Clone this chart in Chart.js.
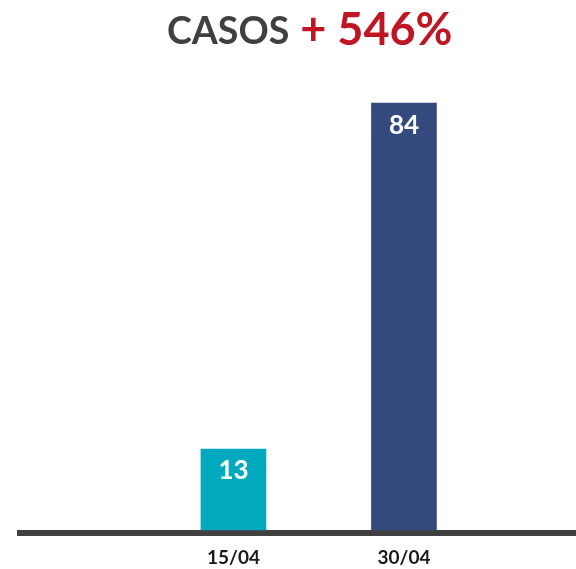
<!DOCTYPE html>
<html>
<head>
<meta charset="utf-8">
<script src="https://cdn.jsdelivr.net/npm/chart.js@4/dist/chart.umd.min.js"></script>
<style>
html,body{margin:0;padding:0;background:#fff;}
#wrap{position:relative;width:576px;height:569px;}
</style>
</head>
<body>
<div id="wrap"><canvas id="c" width="576" height="569"></canvas></div>
<script>
const categories = ['15/04', '30/04'];
const casos = [13, 84];
const barColors = ['#00A9BD', '#344A7E'];
const titleMain = 'CASOS';
const titleChange = '+ 546%';

const titlePlugin = {
  id: 'twoColorTitle',
  afterDraw(chart) {
    const ctx = chart.ctx;
    ctx.save();
    ctx.textBaseline = 'alphabetic';
    ctx.textAlign = 'left';
    let x = 167;
    ctx.font = 'bold 37.5px Lato';
    ctx.fillStyle = '#404040';
    ctx.fillText(titleMain, x, 44);
    x += ctx.measureText(titleMain).width + 11;
    ctx.font = 'bold 45px Lato';
    ctx.fillStyle = '#BE1622';
    ctx.fillText(titleChange, x, 45);
    ctx.restore();
  }
};

const valueLabels = {
  id: 'valueLabels',
  afterDatasetsDraw(chart) {
    const ctx = chart.ctx;
    const meta = chart.getDatasetMeta(0);
    ctx.save();
    ctx.font = 'bold 26px Lato';
    ctx.fillStyle = '#ffffff';
    ctx.textAlign = 'center';
    ctx.textBaseline = 'middle';
    meta.data.forEach((bar, i) => {
      ctx.fillText(String(casos[i]), bar.x, bar.y + 22);
    });
    ctx.restore();
  }
};

new Chart(document.getElementById('c'), {
  type: 'bar',
  data: {
    datasets: [{
      data: casos.map((v, i) => ({x: i + 1, y: v})),
      backgroundColor: barColors,
      barThickness: 65,
      base: -3.62
    }]
  },
  options: {
    responsive: false,
    animation: false,
    layout: {padding: {top: 90, left: 20, right: 0, bottom: 3}},
    plugins: {legend: {display: false}, tooltip: {enabled: false}, title: {display: false}},
    scales: {
      x: {
        type: 'linear',
        offset: false,
        min: -0.252,
        max: 3.009,
        afterBuildTicks(scale) { scale.ticks = categories.map((c, i) => ({value: i + 1})); },
        afterFit(scale) { scale.height = 33; },
        ticks: {
          callback: (v) => categories[v - 1] || '',
          font: {family: 'Lato', weight: 'bold', size: 19},
          color: '#1a1a1a',
          padding: 13,
          autoSkip: false,
          maxRotation: 0
        },
        grid: {display: false, drawTicks: false},
        border: {display: true, width: 6, color: '#404040'}
      },
      y: {
        display: false,
        min: -4.24,
        max: 86.7
      }
    }
  },
  plugins: [titlePlugin, valueLabels]
});
</script>
</body>
</html>
